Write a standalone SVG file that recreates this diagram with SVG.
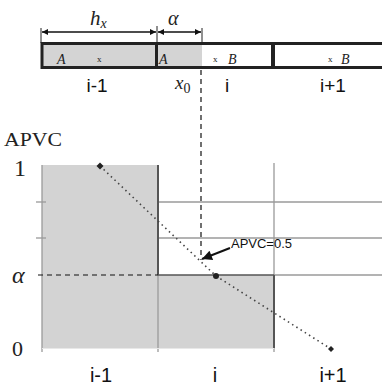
<svg xmlns="http://www.w3.org/2000/svg" width="382" height="391" viewBox="0 0 382 391">
<style>
.serif{font-family:"Liberation Serif","DejaVu Serif",serif;fill:#222}
.it{font-style:italic}
.sans{font-family:"Liberation Sans","DejaVu Sans",sans-serif;fill:#111}
.grid{stroke:#9a9a9a;stroke-width:1.3;fill:none}
.dark{stroke:#555;stroke-width:2;fill:none}
.thin{stroke:#222;stroke-width:1;fill:none}
.dim{stroke:#111;stroke-width:1.3;fill:none}
</style>
<defs>
<marker id="ah" viewBox="0 0 10 10" refX="10" refY="5" markerWidth="8" markerHeight="6" orient="auto-start-reverse" markerUnits="userSpaceOnUse">
<path d="M0,0 L10,5 L0,10 z" fill="#111"/>
</marker>
<marker id="ah2" viewBox="0 0 10 10" refX="10" refY="5" markerWidth="14" markerHeight="10" orient="auto" markerUnits="userSpaceOnUse">
<path d="M0,0 L10,5 L0,10 z" fill="#111"/>
</marker>
</defs>

<!-- Top bar -->
<g id="bar">
<rect x="42.5" y="43.5" width="114" height="24" fill="#d4d4d4"/>
<rect x="157" y="43.5" width="45" height="24" fill="#d4d4d4"/>
<rect x="202" y="43.5" width="71" height="24" fill="#fff"/>
<rect x="42" y="43.5" width="350" height="24" fill="none" stroke="#222" stroke-width="3"/>
<line x1="156.5" y1="43" x2="156.5" y2="68" stroke="#222" stroke-width="3"/>
<line x1="273" y1="43" x2="273" y2="68" stroke="#222" stroke-width="4"/>
</g>
<g id="bar-labels">
<text class="serif it" x="57" y="64" font-size="14">A</text>
<text class="serif" x="97" y="62" font-size="9">x</text>
<text class="serif it" x="159" y="64" font-size="14">A</text>
<text class="serif" x="213" y="62" font-size="9">x</text>
<text class="serif it" x="228" y="64" font-size="14">B</text>
<text class="serif" x="328" y="62" font-size="9">x</text>
<text class="serif it" x="341" y="64" font-size="14">B</text>
<text class="sans" x="97" y="92" font-size="19" text-anchor="middle">i-1</text>
<text class="sans" x="227" y="92" font-size="19" text-anchor="middle">i</text>
<text class="sans" x="333" y="92" font-size="19" text-anchor="middle">i+1</text>
<text class="serif it" x="175" y="89" font-size="19">x<tspan font-style="normal" font-size="14" dy="4">0</tspan></text>
</g>

<!-- Dimensions -->
<g id="dimensions">
<line class="thin" x1="41" y1="28" x2="41" y2="43"/>
<line class="thin" x1="157" y1="26" x2="157" y2="43"/>
<line class="thin" x1="202" y1="28" x2="202" y2="43"/>
<line class="dim" x1="42" y1="32" x2="156" y2="32" marker-start="url(#ah)" marker-end="url(#ah)"/>
<line class="dim" x1="158" y1="32" x2="201" y2="32" marker-start="url(#ah)" marker-end="url(#ah)"/>
<text class="serif it" x="90" y="25" font-size="21">h<tspan font-size="14" dy="3">x</tspan></text>
<text class="serif it" x="168" y="25" font-size="20">α</text>
</g>

<!-- Graph -->
<g id="graph">
<rect x="42" y="165" width="116" height="183" fill="#d3d3d3"/>
<rect x="158" y="275" width="116" height="73" fill="#d3d3d3"/>
<line class="grid" x1="42" y1="165" x2="42" y2="352"/>
<line class="grid" x1="158" y1="275" x2="158" y2="352"/>
<line class="grid" x1="274" y1="163" x2="274" y2="275"/>
<line class="grid" x1="274" y1="348" x2="274" y2="352"/>
<line class="grid" x1="158" y1="202" x2="382" y2="202"/>
<line class="grid" x1="158" y1="238" x2="382" y2="238"/>
<line class="grid" x1="274" y1="275" x2="382" y2="275"/>
<line class="grid" x1="36" y1="202" x2="46" y2="202" stroke="#777"/>
<line class="grid" x1="36" y1="238" x2="46" y2="238" stroke="#777"/>
<line x1="42" y1="348.5" x2="274" y2="348.5" stroke="#e8e8e8" stroke-width="1"/>
<line class="dark" x1="158" y1="165" x2="158" y2="275"/>
<line x1="158" y1="275" x2="274" y2="275" stroke="#555" stroke-width="1.5"/>
<line class="dark" x1="274" y1="275" x2="274" y2="348"/>
<line x1="38" y1="275" x2="158" y2="275" stroke="#111" stroke-width="1.2" stroke-dasharray="5 4"/>
</g>

<g id="axis-labels">
<text class="serif" x="4" y="146" font-size="18" textLength="58" lengthAdjust="spacingAndGlyphs">APVC</text>
<text class="serif" x="14" y="176" font-size="24">1</text>
<text class="serif" x="12" y="356" font-size="22">0</text>
<text class="serif it" x="12" y="283" font-size="24">α</text>
<text class="sans" x="101" y="382" font-size="20" text-anchor="middle">i-1</text>
<text class="sans" x="215" y="382" font-size="20" text-anchor="middle">i</text>
<text class="sans" x="333" y="382" font-size="20" text-anchor="middle">i+1</text>
</g>

<g id="connectors">
<line x1="201" y1="70" x2="201" y2="260" stroke="#111" stroke-width="1.2" stroke-dasharray="5 4"/>
<polyline points="100,166 216,276 331,349" fill="none" stroke="#444" stroke-width="1.6" stroke-dasharray="1.5 3.5"/>
<line x1="230" y1="248" x2="202" y2="259" stroke="#111" stroke-width="2" marker-end="url(#ah2)"/>
</g>

<g id="points">
<path d="M100,162.5 L103.5,166 L100,169.5 L96.5,166 z" fill="#222"/>
<circle cx="216" cy="276" r="3" fill="#222"/>
<path d="M331,346 L334,349 L331,352 L328,349 z" fill="#222"/>
</g>

<g id="annotation">
<text class="sans" x="231" y="248" font-size="13.5" textLength="61" lengthAdjust="spacingAndGlyphs">APVC=0.5</text>
</g>
</svg>
